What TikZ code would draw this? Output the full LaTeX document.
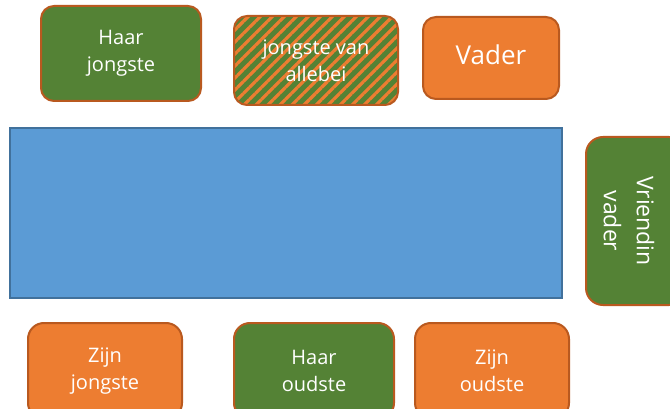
\documentclass[tikz,border=0pt]{standalone}
\usepackage{fontspec}
\setmainfont{Open Sans}
\usetikzlibrary{patterns.meta}
\definecolor{pgreen}{HTML}{548235}
\definecolor{porange}{HTML}{ED7D31}
\definecolor{pborder}{HTML}{B9591F}
\definecolor{pblue}{HTML}{5B9BD5}
\definecolor{pblueb}{HTML}{41719C}
\tikzset{
  card/.style={draw=pborder, line width=2pt, rounded corners=13pt, text=white,
    align=center, inner sep=0pt, font=\fontsize{20}{27}\selectfont},
  greencard/.style={card, fill=pgreen},
  orangecard/.style={card, fill=porange},
  stripecard/.style={card, preaction={fill=pgreen},
    pattern={Lines[angle=45,distance=8.5pt,line width=3.2pt]}, pattern color=porange},
  tablebox/.style={draw=pblueb, line width=1.5pt, fill=pblue, inner sep=0pt},
  cardtext/.style={text=white, align=center, inner sep=0pt}
}
\begin{document}
\begin{tikzpicture}[x=1pt,y=-1pt]
\useasboundingbox (0,0) rectangle (670,409);
\clip (0,0) rectangle (670,409);
% top row
\node[greencard, minimum width=160pt, minimum height=95pt] (hj) at (121,53.5) {Haar\\jongste};
\node[stripecard, minimum width=164pt, minimum height=89pt] (jva) at (316,60.5) {jongste van\\allebei};
\node[orangecard, minimum width=136pt, minimum height=82pt, font=\fontsize{26}{30}\selectfont] (vader) at (491,58) {\raisebox{6pt}{Vader}};
% table
\node[tablebox, minimum width=552pt, minimum height=170pt] (table) at (286,213) {};
% right
\node[greencard, rounded corners=17pt, minimum width=168pt, minimum height=100pt, rotate=-90] (vv) at (636,221) {};
\node[cardtext, rotate=-90, font=\fontsize{23}{33}\selectfont] (vvtext) at (629,221) {Vriendin\\vader};
% bottom row
\node[orangecard, rounded corners=16pt, minimum width=154pt, minimum height=96pt] (zj) at (105,371) {Zijn\\jongste};
\node[greencard, rounded corners=16pt, minimum width=160pt, minimum height=96pt] (ho) at (314,371) {Haar\\oudste};
\node[orangecard, rounded corners=16pt, minimum width=154pt, minimum height=96pt] (zo) at (492,371) {Zijn\\oudste};
\end{tikzpicture}
\end{document}
